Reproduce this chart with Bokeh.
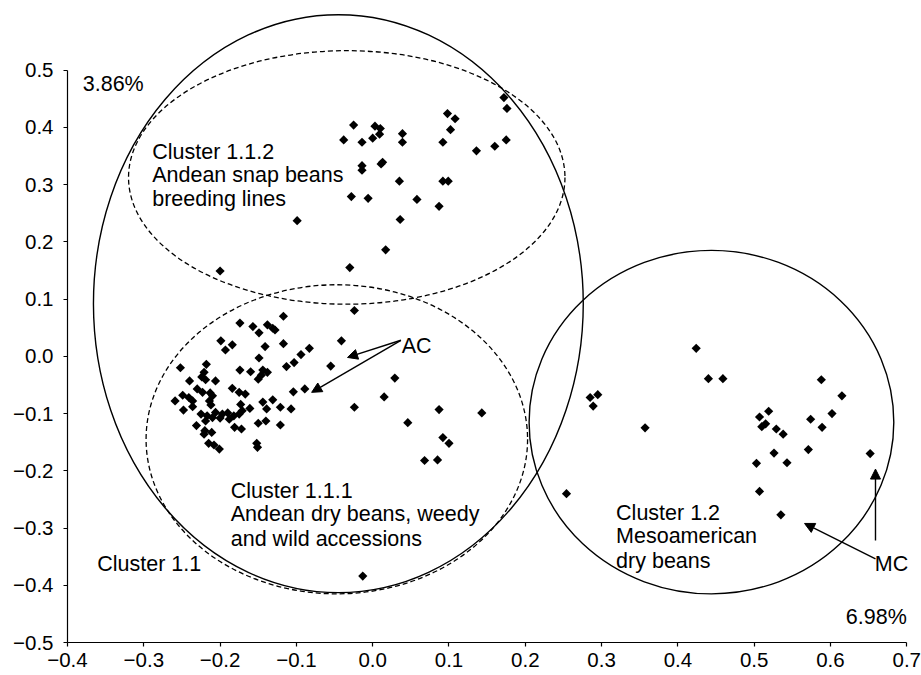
import numpy as np
from bokeh.plotting import figure
from bokeh.models import FixedTicker, Arrow, NormalHead, Range1d
from bokeh.core.properties import value
from bokeh.embed import file_html
from bokeh.resources import INLINE

# ---------------- data ----------------
# Cluster 1.1.2 (Andean snap beans breeding lines)
snap_x = [-0.025, -0.038, -0.014, 0.003, 0.010, 0.009, 0.000, 0.039, 0.039, 0.098,
          0.108, 0.102, 0.092, 0.172, 0.176, 0.175, 0.160, 0.136, -0.014, -0.014,
          0.013, 0.011, 0.035, 0.092, 0.099, -0.028, -0.006, 0.058, 0.087, 0.036,
          -0.099, 0.017, -0.030, -0.200]
snap_y = [0.404, 0.378, 0.374, 0.402, 0.398, 0.388, 0.381, 0.389, 0.374, 0.424,
          0.415, 0.396, 0.374, 0.452, 0.433, 0.378, 0.367, 0.359, 0.333, 0.325,
          0.339, 0.336, 0.306, 0.306, 0.306, 0.279, 0.276, 0.274, 0.262, 0.239,
          0.237, 0.186, 0.155, 0.149]

# Cluster 1.1.1 (Andean dry beans, weedy and wild accessions)
andean_x = [-0.024, -0.041, -0.055, 0.029, 0.015, -0.024, 0.087, 0.143, 0.046, 0.092,
            0.100, 0.068, 0.085, -0.013,
            -0.117, -0.174, -0.157, -0.149, -0.138, -0.131, -0.128, -0.199, -0.193, -0.184,
            -0.141, -0.117, -0.083, -0.094, -0.103, -0.113, -0.149, -0.218, -0.252, -0.174,
            -0.160, -0.144, -0.138, -0.146, -0.150, -0.221, -0.219, -0.206, -0.240, -0.230,
            -0.223, -0.213, -0.184, -0.175, -0.167, -0.104, -0.089, -0.249, -0.241, -0.259,
            -0.236, -0.214, -0.248, -0.236, -0.212, -0.173, -0.161, -0.144, -0.131, -0.139,
            -0.121, -0.107, -0.225, -0.217, -0.206, -0.197, -0.190, -0.182, -0.175, -0.171,
            -0.200, -0.188, -0.219, -0.210, -0.231, -0.220, -0.221, -0.211, -0.181, -0.172,
            -0.150, -0.140, -0.121, -0.215, -0.208, -0.201, -0.152, -0.151, -0.224, -0.210]
andean_y = [0.080, 0.027, -0.017, -0.038, -0.071, -0.089, -0.093, -0.099, -0.116, -0.142,
            -0.152, -0.182, -0.181, -0.384,
            0.070, 0.058, 0.052, 0.041, 0.055, 0.049, 0.046, 0.027, 0.011, 0.020,
            0.017, 0.022, 0.014, 0.003, -0.011, -0.018, -0.003, -0.014, -0.020, -0.024,
            -0.027, -0.024, -0.028, -0.033, -0.040, -0.028, -0.041, -0.043, -0.043, -0.057,
            -0.063, -0.064, -0.056, -0.063, -0.066, -0.062, -0.057, -0.068, -0.072, -0.078,
            -0.078, -0.078, -0.094, -0.088, -0.085, -0.084, -0.091, -0.080, -0.076, -0.092,
            -0.089, -0.092, -0.101, -0.104, -0.098, -0.101, -0.099, -0.104, -0.101, -0.095,
            -0.108, -0.110, -0.113, -0.107, -0.121, -0.130, -0.136, -0.133, -0.124, -0.127,
            -0.117, -0.113, -0.120, -0.152, -0.155, -0.162, -0.152, -0.159, -0.036, -0.069]

# Cluster 1.2 (Mesoamerican dry beans)
meso_x = [0.424, 0.440, 0.459, 0.285, 0.295, 0.289, 0.357, 0.254, 0.588, 0.615,
          0.602, 0.574, 0.589, 0.519, 0.507, 0.515, 0.510, 0.529, 0.538, 0.571,
          0.526, 0.543, 0.503, 0.652, 0.507, 0.535]
meso_y = [0.014, -0.039, -0.039, -0.072, -0.067, -0.087, -0.125, -0.240, -0.041, -0.069,
          -0.100, -0.110, -0.124, -0.096, -0.106, -0.118, -0.123, -0.127, -0.136, -0.163,
          -0.169, -0.186, -0.187, -0.170, -0.236, -0.277]

# cluster ellipses (centre, full width, full height)
solid_cx = [-0.045, 0.444]
solid_cy = [0.092, -0.115]
solid_w = [0.642, 0.478]
solid_h = [1.010, 0.600]
dashed_cx = [-0.034, -0.047]
dashed_cy = [0.3125, -0.145]
dashed_w = [0.572, 0.500]
dashed_h = [0.443, 0.540]

# text labels
label_x = [-0.289, -0.289, -0.289, -0.186, -0.186, -0.186, -0.361, 0.319, 0.319, 0.319,
           0.038, 0.658, -0.380]
label_y = [0.357, 0.316, 0.275, -0.236, -0.276, -0.319, -0.362, -0.273, -0.314, -0.357,
           0.018, -0.363, 0.4755]
label_text = ["Cluster 1.1.2", "Andean snap beans", "breeding lines",
              "Cluster 1.1.1", "Andean dry beans, weedy", "and wild accessions",
              "Cluster 1.1",
              "Cluster 1.2", "Mesoamerican", "dry beans",
              "AC", "MC", "3.86%"]
pct_x = [0.700]
pct_y = [-0.4563]
pct_text = ["6.98%"]

# arrows (AC and MC markers)
arrow_x0 = [0.037, 0.037, 0.659, 0.659]
arrow_y0 = [0.028, 0.028, -0.322, -0.354]
arrow_x1 = [-0.033, -0.080, 0.659, 0.566]
arrow_y1 = [-0.002, -0.063, -0.197, -0.292]

# axes
x_ticks = [-0.4, -0.3, -0.2, -0.1, 0.0, 0.1, 0.2, 0.3, 0.4, 0.5, 0.6, 0.7]
x_tick_labels = ["\u22120.4", "\u22120.3", "\u22120.2", "\u22120.1", "0.0", "0.1",
                 "0.2", "0.3", "0.4", "0.5", "0.6", "0.7"]
y_ticks = [-0.5, -0.4, -0.3, -0.2, -0.1, 0.0, 0.1, 0.2, 0.3, 0.4, 0.5]
y_tick_labels = ["\u22120.5", "\u22120.4", "\u22120.3", "\u22120.2", "\u22120.1", "0.0",
                 "0.1", "0.2", "0.3", "0.4", "0.5"]

# ---------------- figure ----------------
FONT = "Liberation Sans"
p = figure(width=921, height=675, x_range=Range1d(-0.4, 0.7193),
           y_range=Range1d(-0.5, 0.6216), output_backend="svg",
           toolbar_location=None, title=None,
           min_border_left=67, min_border_right=0, min_border_top=0,
           min_border_bottom=33)
p.outline_line_color = None
p.xgrid.visible = False
p.ygrid.visible = False
p.background_fill_color = "white"

for ax, ticks, labs, bnds in ((p.xaxis[0], x_ticks, x_tick_labels, (-0.4, 0.7)),
                              (p.yaxis[0], y_ticks, y_tick_labels, (-0.5, 0.5))):
    ax.ticker = FixedTicker(ticks=ticks)
    ax.major_label_overrides = {t: l for t, l in zip(ticks, labs)}
    ax.bounds = bnds
    ax.axis_line_color = "black"
    ax.axis_line_width = 1.2
    ax.major_tick_line_color = "black"
    ax.major_tick_line_width = 1.2
    ax.major_tick_out = 4
    ax.major_tick_in = 0
    ax.minor_tick_line_color = None
    ax.major_label_text_font = FONT
    ax.major_label_text_font_size = "20.5px"
    ax.major_label_text_color = "black"

p.xaxis.major_label_standoff = 6
p.yaxis.major_label_standoff = 10

# ellipses
p.ellipse(x=solid_cx, y=solid_cy, width=solid_w, height=solid_h,
          fill_color=None, line_color="black", line_width=1.4)
p.ellipse(x=dashed_cx, y=dashed_cy, width=dashed_w, height=dashed_h,
          fill_color=None, line_color="black", line_width=1.3, line_dash="5 3")

# points
for xs, ys in ((snap_x, snap_y), (andean_x, andean_y), (meso_x, meso_y)):
    p.scatter(x=xs, y=ys, marker="square", size=6.5, angle=np.pi / 4,
              fill_color="black", line_color=None)

# arrows
for x0, y0, x1, y1 in zip(arrow_x0, arrow_y0, arrow_x1, arrow_y1):
    p.add_layout(Arrow(end=NormalHead(size=10, fill_color="black", line_color="black",
                                      line_width=1),
                       x_start=x0, y_start=y0, x_end=x1, y_end=y1,
                       line_color="black", line_width=1.4))

# texts
p.text(x=label_x, y=label_y, text=label_text, text_font=value(FONT),
       text_font_size="21.5px", text_baseline="alphabetic", text_align="left",
       text_color="black")
p.text(x=pct_x, y=pct_y, text=pct_text, text_font=value(FONT),
       text_font_size="21.5px", text_baseline="alphabetic", text_align="right",
       text_color="black")

open("out.html", "w").write(file_html(p, INLINE))
